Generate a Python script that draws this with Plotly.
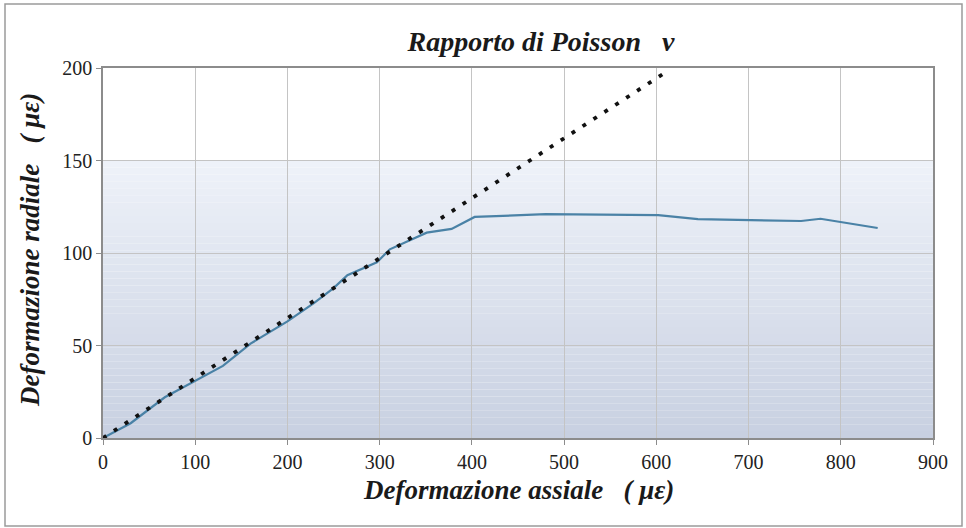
import plotly.graph_objects as go

# Data
axial = [0, 30, 67, 100, 130, 160, 200, 229, 250, 265, 297, 311, 351, 378, 403, 480, 602, 645, 757, 778, 840]
radial = [0, 8, 22, 31, 39, 51, 63, 73, 81, 88, 95, 102, 111, 113, 119.5, 121, 120.5, 118.3, 117.3, 118.5, 113.5]

trend_x = [0, 608]
trend_y = [0, 197]

x_ticks = [0, 100, 200, 300, 400, 500, 600, 700, 800, 900]
y_ticks = [0, 50, 100, 150, 200]

title_text = "Rapporto di Poisson   ν"
x_title = "Deformazione assiale   ( με)"
y_title = "Deformazione radiale   ( με)"

SERIF = "Liberation Serif, Times New Roman, serif"

L, R, T, B = 103, 33, 68, 90
PW, PH = 966 - L - R, 528 - T - B

fig = go.Figure()
fig.add_trace(go.Scatter(x=axial, y=radial, mode="lines",
                         line=dict(color="#4a82a6", width=2.2), showlegend=False))
fig.add_trace(go.Scatter(x=trend_x, y=trend_y, mode="lines",
                         line=dict(color="#111111", width=3.8, dash="4px,9px"), showlegend=False))

# background gradient below the 150 line (in y-domain fraction)
n = 40
top = 0.75
c_top = (238, 242, 249)
c_bot = (200, 208, 225)
shapes = []
for i in range(n):
    f0 = top * i / n
    f1 = top * (i + 1) / n
    t = (i + 0.5) / n
    c = tuple(round(c_bot[k] + (c_top[k] - c_bot[k]) * t) for k in range(3))
    shapes.append(dict(type="rect", xref="x domain", yref="y domain", x0=0, x1=1, y0=f0, y1=f1,
                       fillcolor="rgb(%d,%d,%d)" % c, line=dict(width=0), layer="below"))
# outer frame
shapes.append(dict(type="rect", xref="paper", yref="paper",
                   x0=(5 - L) / PW, x1=(962 - L) / PW, y0=(528 - B - 526) / PH, y1=(528 - B - 4) / PH,
                   line=dict(color="#9a9a9a", width=1.5), fillcolor="rgba(0,0,0,0)", layer="below"))

annotations = [
    dict(text="<b><i>" + x_title + "</i></b>", xref="paper", yref="paper",
         x=(518 - L) / PW, y=(528 - B - 490) / PH, xanchor="center", yanchor="middle",
         showarrow=False, font=dict(family=SERIF, size=27, color="#1a1a1a")),
    dict(text="<b><i>" + y_title + "</i></b>", xref="paper", yref="paper",
         x=(30 - L) / PW, y=(528 - B - 250) / PH, xanchor="center", yanchor="middle",
         textangle=-90, showarrow=False, font=dict(family=SERIF, size=27, color="#1a1a1a")),
]

fig.update_layout(
    width=966, height=528,
    margin=dict(l=L, r=R, t=T, b=B, autoexpand=False),
    paper_bgcolor="white", plot_bgcolor="white",
    shapes=shapes, annotations=annotations,
    title=dict(text="<b><i>" + title_text + "</i></b>", x=541 / 966,
               xanchor="center", xref="container",
               y=1 - 41 / 528, yanchor="middle", yref="container",
               font=dict(family=SERIF, size=28, color="#1a1a1a")),
    xaxis=dict(range=[0, 900], tickvals=x_ticks, showgrid=True, gridcolor="#c4c4c4", gridwidth=1,
               zeroline=False, showline=True, linecolor="#8c8c8c", linewidth=1.5, mirror=True,
               ticks="outside", ticklen=5, tickcolor="#8c8c8c",
               tickfont=dict(family=SERIF, size=20, color="#222222")),
    yaxis=dict(range=[0, 200], tickvals=y_ticks, showgrid=True, gridcolor="#c4c4c4", gridwidth=1,
               zeroline=False, showline=True, linecolor="#8c8c8c", linewidth=1.5, mirror=True,
               ticks="outside", ticklen=5, tickcolor="#8c8c8c",
               tickfont=dict(family=SERIF, size=20, color="#222222")),
)

fig.write_html("out.html", config={"displayModeBar": False},
               post_script="document.body.style.margin='0';document.body.style.overflow='hidden';")
